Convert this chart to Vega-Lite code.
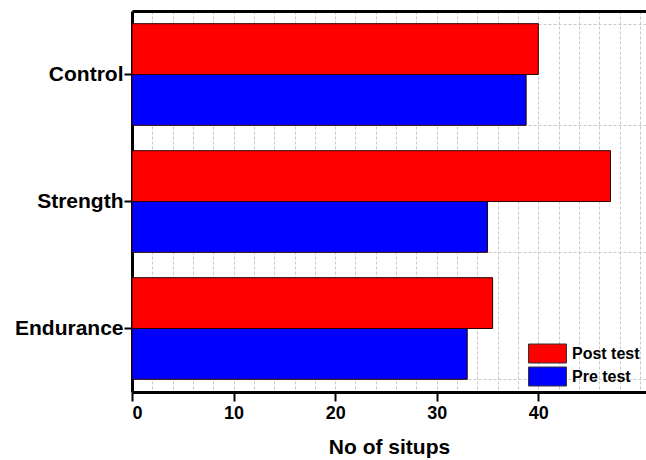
{
  "$schema": "https://vega.github.io/schema/vega-lite/v6.json",
  "width": 514,
  "height": 381,
  "autosize": {"type": "none"},
  "padding": {"left": 132, "top": 11, "right": 0, "bottom": 68},
  "background": "white",
  "config": {
    "view": {"stroke": null},
    "font": "Liberation Sans",
    "axis": {"labelFont": "Liberation Sans", "titleFont": "Liberation Sans", "labelColor": "black", "titleColor": "black"},
    "legend": {"labelFont": "Liberation Sans"}
  },
  "data": {
    "values": [
      {"group": "Control", "test": "Post test", "situps": 40},
      {"group": "Control", "test": "Pre test", "situps": 38.8},
      {"group": "Strength", "test": "Post test", "situps": 47.1},
      {"group": "Strength", "test": "Pre test", "situps": 35},
      {"group": "Endurance", "test": "Post test", "situps": 35.5},
      {"group": "Endurance", "test": "Pre test", "situps": 33}
    ]
  },
  "resolve": {"axis": {"x": "independent", "y": "independent"}},
  "layer": [
    {
      "mark": {"type": "bar", "opacity": 0},
      "encoding": {
        "y": {
          "field": "group", "type": "nominal",
          "sort": ["Control", "Strength", "Endurance"],
          "scale": {"paddingInner": 0.2, "paddingOuter": 0.1},
          "axis": {"orient": "right", "title": null, "labels": false, "ticks": false, "domain": false, "grid": true, "tickBand": "extent", "gridColor": "#c8c8c8", "gridDash": [3, 2], "gridWidth": 1}
        },
        "x": {
          "field": "situps", "type": "quantitative",
          "scale": {"domain": [0, 50.6], "nice": false},
          "axis": {"orient": "top", "title": null, "labels": false, "ticks": false, "values": [2, 4, 6, 8, 10, 12, 14, 16, 18, 20, 22, 24, 26, 28, 30, 32, 34, 36, 38, 40, 42, 44, 46, 48, 50], "grid": true, "gridColor": "#c8c8c8", "gridDash": [3, 2], "gridWidth": 1, "domainColor": "black", "domainWidth": 3}
        }
      }
    },
    {
      "mark": {"type": "bar", "stroke": "#2a0000", "strokeWidth": 1},
      "encoding": {
        "y": {
          "field": "group", "type": "nominal",
          "sort": ["Control", "Strength", "Endurance"],
          "axis": {"orient": "left", "title": null, "labelFontSize": 21, "labelFontWeight": "bold", "tickColor": "black", "tickSize": 8, "tickWidth": 2, "labelPadding": 1, "domainColor": "black", "domainWidth": 3, "grid": false}
        },
        "yOffset": {"field": "test", "type": "nominal", "sort": ["Post test", "Pre test"]},
        "x": {
          "field": "situps", "type": "quantitative",
          "axis": {"orient": "bottom", "values": [0, 10, 20, 30, 40], "title": "No of situps", "titleFontSize": 21, "titleFontWeight": "bold", "labelFontSize": 18, "labelFontWeight": "bold", "tickColor": "black", "tickSize": 9, "tickWidth": 2, "domainColor": "black", "domainWidth": 3, "grid": false, "titlePadding": 14, "labelPadding": 3}
        },
        "color": {
          "field": "test", "type": "nominal",
          "scale": {"domain": ["Post test", "Pre test"], "range": ["#ff0000", "#0000ff"]},
          "legend": {
            "orient": "none", "legendX": 405, "legendY": 332, "title": null, "padding": 0,
            "labelFontSize": 16, "labelFontWeight": "bold", "labelColor": "black",
            "symbolType": "M-1.9,-0.95H1.9V0.95H-1.9Z", "symbolSize": 400,
            "symbolStrokeColor": "#333", "symbolStrokeWidth": 1, "symbolOpacity": 1,
            "labelOffset": 14, "rowPadding": 0
          }
        }
      }
    }
  ]
}
